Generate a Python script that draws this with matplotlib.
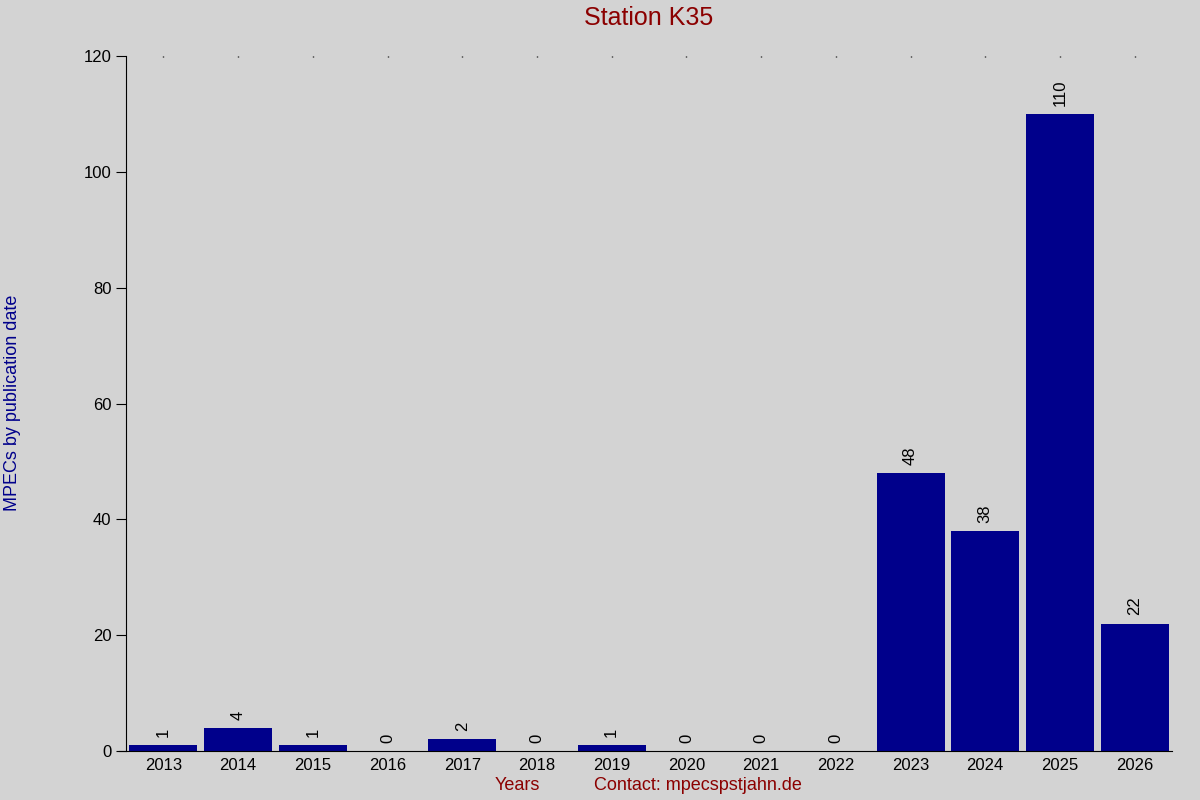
import numpy as np
import matplotlib.pyplot as plt

plt.rcParams['font.family'] = ['Liberation Sans', 'DejaVu Sans']

years = ['2013', '2014', '2015', '2016', '2017', '2018', '2019',
         '2020', '2021', '2022', '2023', '2024', '2025', '2026']
counts = [1, 4, 1, 0, 2, 0, 1, 0, 0, 0, 48, 38, 110, 22]

bg = '#d3d3d3'
fig = plt.figure(figsize=(12, 8), dpi=100, facecolor=bg)
ax = fig.add_axes([0.105, 0.06125, 0.8717, 0.86875], facecolor=bg)

x = np.arange(len(years))
ax.bar(x, counts, width=0.91, color='#00008b')
for xi, c in zip(x, counts):
    ax.annotate(str(c), (xi, c), xytext=(0, 6), textcoords='offset points',
                rotation=90, ha='center', va='bottom', fontsize=12)

ax.set_xlim(-0.5, len(years) - 0.5)
ax.set_ylim(0, 120)
ax.set_yticks(np.arange(0, 121, 20))
ax.set_xticks(x)
ax.set_xticklabels(years)
ax.tick_params(axis='y', direction='out', length=7, labelsize=12)
ax.tick_params(axis='x', bottom=False, top=True, direction='in', length=1,
               width=1, labelsize=12, pad=5)
for s in ['top', 'right']:
    ax.spines[s].set_visible(False)
ax.spines['bottom'].set_bounds(-0.6, len(years) - 0.5)
ax.spines['bottom'].set_clip_on(False)

ax.set_title('Station K35', color='#8b0000', fontsize=18, pad=22)
fig.text(0.0035, 0.497, 'MPECs by publication date', rotation=90, color='#00008b',
         fontsize=13, ha='left', va='center')
fig.text(0.431, 0.018, 'Years', color='#8b0000', fontsize=13, ha='center', va='center')
fig.text(0.5817, 0.018, 'Contact: mpecspstjahn.de', color='#8b0000', fontsize=13,
         ha='center', va='center')

fig.savefig('out.png', dpi=100, facecolor=bg)
